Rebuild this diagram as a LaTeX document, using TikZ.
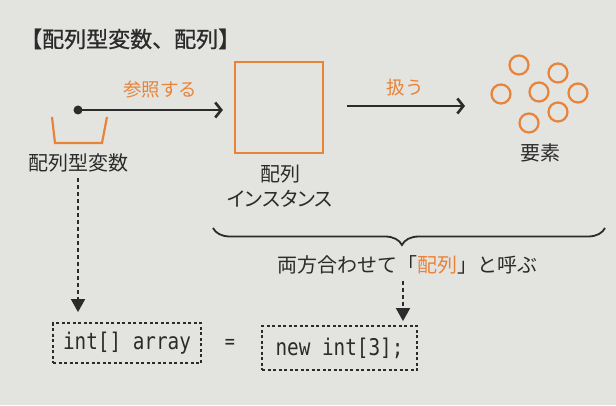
\documentclass[tikz,border=0pt]{standalone}
\usepackage{fontspec}
\setmainfont{Noto Sans CJK JP}
\newfontfamily\kanafont{Noto Sans CJK JP}[RawFeature=+palt]
\newfontfamily\titlefont{Noto Sans CJK JP}[FakeBold=0.8]
\setmonofont{DejaVu Sans Mono}[FakeStretch=0.84]
\usetikzlibrary{arrows.meta,decorations.pathreplacing,positioning}
\definecolor{paper}{HTML}{E3E3E0}
\definecolor{ink}{HTML}{2B2B2B}
\definecolor{hl}{HTML}{E8843A}
\tikzset{
  lbl/.style = {inner sep=0pt, text=ink, font=\fontsize{20}{25}\selectfont},
  arrlbl/.style = {inner sep=0pt, text=hl, font=\fontsize{18.5}{22}\selectfont},
  refarrow/.style = {draw=ink, line width=2.6pt, -{Straight Barb[length=6pt,width=15pt]}},
  dashlink/.style = {draw=ink, line width=1.8pt, dash pattern=on 4pt off 3pt, -{Triangle[length=13pt,width=14pt]}},
  codebox/.style = {draw=ink, line width=1.8pt, dash pattern=on 3pt off 2.5pt, text=ink,
                    font=\ttfamily\fontsize{23}{26}\selectfont},
  elem/.style = {circle, draw=hl, line width=2.2pt, minimum size=19pt, inner sep=0pt}
}
\begin{document}
\begin{tikzpicture}[x=1pt, y=1pt]
  \fill[paper] (0,0) rectangle (616,405);
  \useasboundingbox (0,0) rectangle (616,405);

  \node[lbl, anchor=west, font=\titlefont\fontsize{22}{26}\selectfont] (title) at (20,366) {【配列型変数、配列】};

  % variable and the reference to the instance
  \node[circle, fill=ink, inner sep=0pt, minimum size=9pt] (ref) at (78,295) {};
  \draw[hl, line width=2.2pt] (52,288) -- (55,262) -- (102,262) -- (107,288);
  \node[lbl] (var) at (78,242) {配列型変数};
  \node[draw=hl, line width=2.2pt, minimum width=88pt, minimum height=91pt] (inst) at (279,297.5) {};
  \node[lbl, align=center] (instl) at (280,219) {配列\\{\kanafont インスタンス}};
  \draw[refarrow, shorten >=11pt] (ref.center) -- (inst.west |- ref);
  \node[arrlbl] (refl) at (160,315) {参照する};

  % elements
  \foreach \p [count=\i] in {(519,340),(558,332),(501,311),(539,313),(578,312),(558,293),(529,282)}
    \node[elem] (e\i) at \p {};
  \node[lbl] (eleml) at (540,252) {要素};
  \coordinate (hs) at (347,299);
  \coordinate (he) at (465,299);
  \draw[refarrow] (hs) -- (he);
  \node[arrlbl] (usel) at (405,318) {扱う};

  % brace and the code line
  \draw[ink, line width=1.8pt, decorate, decoration={brace, mirror, amplitude=17pt, aspect=0.482}] (213,177) -- (605,177);
  \coordinate (tip) at (403,160);
  \node[lbl] (both) at (407,140) {両方合わせて「\textcolor{hl}{配列}」と呼ぶ};

  \node[codebox, minimum width=148pt, minimum height=40pt] (decl) at (127,62) {int[] array};
  \node[lbl, font=\ttfamily\fontsize{20}{24}\selectfont] (eq) at (230,61) {=};
  \node[codebox, minimum width=155pt, minimum height=44pt] (init) at (339.5,57) {new int[3];};

  \draw[dashlink, shorten <=6pt, shorten >=10pt] (var) -- (var |- decl.north);
  \draw[dashlink, shorten <=6pt, shorten >=4pt] (both.south -| tip) -- (init.north -| tip);
\end{tikzpicture}
\end{document}
